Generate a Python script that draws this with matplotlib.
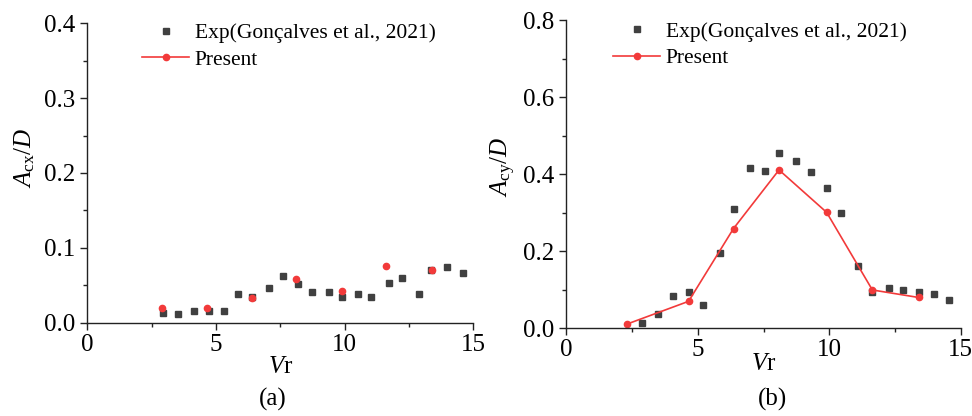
import numpy as np
import matplotlib
matplotlib.use('Agg')
import matplotlib.pyplot as plt
from matplotlib.lines import Line2D

plt.rcParams['font.family'] = ['Liberation Serif', 'DejaVu Serif']
plt.rcParams['mathtext.fontset'] = 'custom'
plt.rcParams['mathtext.rm'] = 'Liberation Serif'
plt.rcParams['mathtext.it'] = 'Liberation Serif:italic'

# (a) in-line amplitude
vr_exp_x = [2.93, 3.51, 4.13, 4.75, 5.32, 5.84, 6.41, 7.05, 7.60, 8.19, 8.74,
            9.38, 9.90, 10.52, 11.04, 11.71, 12.23, 12.88, 13.37, 14.00, 14.59]
acx_exp = [0.013, 0.012, 0.015, 0.015, 0.015, 0.039, 0.034, 0.047, 0.063, 0.052, 0.041,
           0.041, 0.034, 0.038, 0.034, 0.053, 0.060, 0.038, 0.070, 0.075, 0.067]
vr_num_x = [2.89, 4.65, 6.39, 8.10, 9.91, 11.63, 13.41]
acx_num = [0.020, 0.019, 0.033, 0.059, 0.042, 0.076, 0.070]

# (b) cross-flow amplitude
vr_exp_y = [2.88, 3.47, 4.06, 4.65, 5.20, 5.83, 6.36, 6.97, 7.54, 8.10, 8.74,
            9.32, 9.90, 10.46, 11.08, 11.64, 12.27, 12.82, 13.41, 13.99, 14.57]
acy_exp = [0.015, 0.037, 0.083, 0.093, 0.060, 0.196, 0.310, 0.415, 0.409, 0.456, 0.434,
           0.405, 0.364, 0.300, 0.161, 0.094, 0.104, 0.099, 0.093, 0.089, 0.073]
vr_num_y = [2.31, 4.65, 6.36, 8.09, 9.90, 11.64, 13.40]
acy_num = [0.011, 0.070, 0.259, 0.411, 0.301, 0.0995, 0.080]

sq_col = '#404040'
red = '#f23a3a'
fs = 18      # ticks / axis labels
fs_leg = 15.5

fig = plt.figure(figsize=(9.72, 4.16), dpi=100)
ax1 = fig.add_axes([0.0898, 0.2243, 0.397, 0.7197])
ax2 = fig.add_axes([0.5826, 0.2108, 0.4058, 0.741])


def style(ax, ymax, ystep, ylabel, ylab_xy, xpad):
    ax.set_xlim(0, 15)
    ax.set_ylim(0, ymax)
    ax.set_xticks([0, 5, 10, 15])
    ax.set_xticks([2.5, 7.5, 12.5], minor=True)
    ax.set_yticks(np.arange(0, ymax + 1e-9, ystep))
    ax.set_yticks(np.arange(ystep / 2, ymax, ystep), minor=True)
    ax.yaxis.set_major_formatter(matplotlib.ticker.FormatStrFormatter('%.1f'))
    for s in ['top', 'right']:
        ax.spines[s].set_visible(False)
    for s in ['left', 'bottom']:
        ax.spines[s].set_linewidth(1.0)
        ax.spines[s].set_color('#222222')
    ax.tick_params(which='major', direction='out', length=5, width=1.0,
                   labelsize=fs, colors='#222222', labelcolor='black')
    ax.tick_params(which='minor', direction='out', length=3, width=1.0, colors='#222222')
    ax.tick_params(axis='x', pad=3)
    ax.set_xlabel(r'$V\mathrm{r}$', fontsize=fs, labelpad=xpad)
    ax.set_ylabel(ylabel, fontsize=fs)
    ax.yaxis.set_label_coords(*ylab_xy)


def legend(ax, x0, y0):
    h = [Line2D([], [], ls='none', marker='s', ms=5, color=sq_col),
         Line2D([], [], ls='-', lw=1.2, marker='o', ms=4.5, color=red)]
    ax.legend(h, ['Exp(Gonçalves et al., 2021)', 'Present'], loc='upper left',
              bbox_to_anchor=(x0, y0), frameon=False, fontsize=fs_leg,
              handlelength=2.2, handletextpad=0.25, labelspacing=0.3,
              borderpad=0, borderaxespad=0)


ax1.plot(vr_exp_x, acx_exp, ls='none', marker='s', ms=5, color=sq_col, clip_on=False)
ax1.plot(vr_num_x, acx_num, ls='none', marker='o', ms=4.5, color=red, clip_on=False)
style(ax1, 0.4, 0.1, r'$A_{\mathrm{cx}}/D$', (-0.130, 0.55), 0)
legend(ax1, 0.142, 1.0)

ax2.plot(vr_exp_y, acy_exp, ls='none', marker='s', ms=5, color=sq_col, clip_on=False)
ax2.plot(vr_num_y, acy_num, ls='-', lw=1.2, marker='o', ms=4.5, color=red, clip_on=False)
style(ax2, 0.8, 0.2, r'$A_{\mathrm{cy}}/D$', (-0.1225, 0.523), -6)
legend(ax2, 0.118, 0.995)

fig.text(0.281, 0.04, '(a)', fontsize=fs, ha='center', va='center')
fig.text(0.795, 0.04, '(b)', fontsize=fs, ha='center', va='center')

fig.savefig('out.png', dpi=100)
